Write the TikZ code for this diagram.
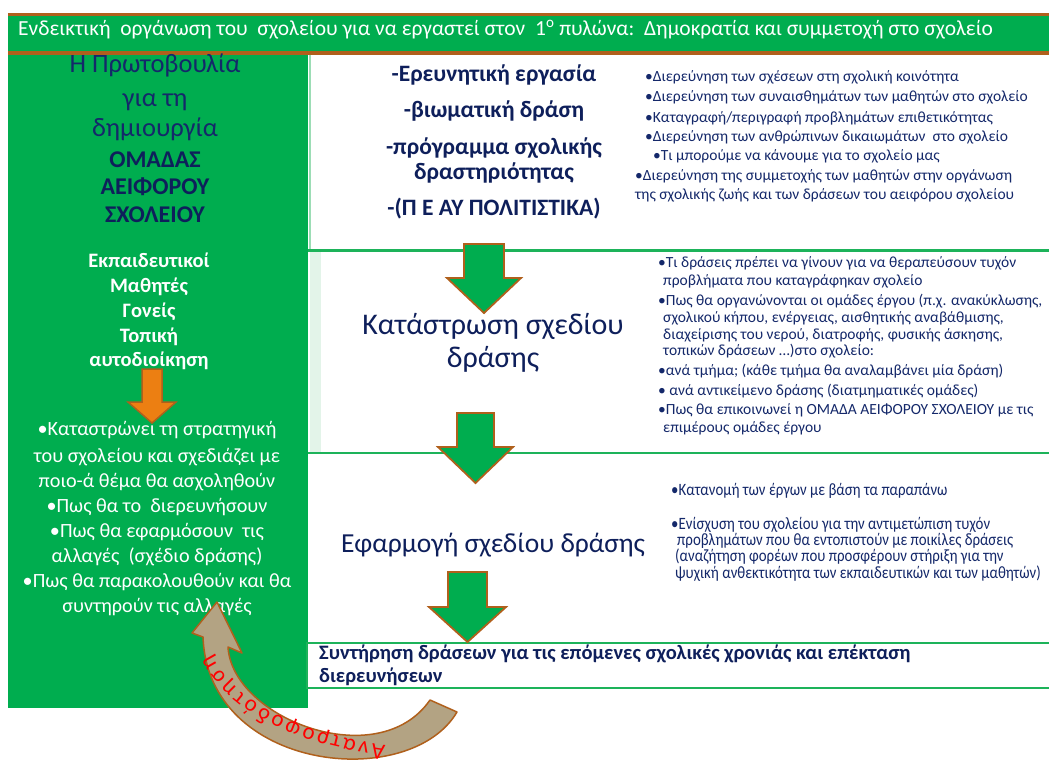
\documentclass[tikz,border=0pt]{standalone}
\usepackage{fontspec}
\setmainfont{Carlito}
\newfontfamily\condfont[FakeStretch=0.86]{Carlito}
\usetikzlibrary{decorations.text}
\definecolor{pgreen}{HTML}{00AD4F}
\definecolor{pbrown}{HTML}{B0601C}
\definecolor{navy}{HTML}{14286A}
\definecolor{dnavy}{HTML}{0E1F5B}
\definecolor{porange}{HTML}{EC7F12}
\definecolor{recyc}{HTML}{B3A383}
\definecolor{lgreen}{HTML}{E3F4E9}
\definecolor{bline}{HTML}{1DB35A}
\definecolor{pline}{HTML}{9CDDB5}
\newcommand\fsz[1]{\fontsize{#1}{#1}\selectfont}
\begin{document}
\begin{tikzpicture}[x=1pt,y=-1pt,
  txt/.style={inner sep=0pt, anchor=mid},
  ltxt/.style={inner sep=0pt, anchor=mid west},
  blockarrow/.style={fill=pgreen, draw=pbrown, line width=1.8pt, line join=miter},
  sepline/.style={draw=bline, line width=2.5pt},
  initxt/.style={txt, text=navy, font=\fsz{26.5}},
  grouptxt/.style={txt, text=dnavy, font=\bfseries\fsz{24}},
  membtxt/.style={txt, text=white, font=\bfseries\fsz{20.5}},
  lbul/.style={txt, text=white, font=\fsz{20.2}},
  headtxt/.style={txt, text=dnavy, font=\bfseries\fsz{23.5}},
  bigtxt/.style={txt, text=dnavy, font=\fsz{30}},
  midtxt/.style={txt, text=dnavy, font=\fsz{27.5}},
  bul1/.style={ltxt, text=navy, font=\fsz{15.5}},
  bul2/.style={ltxt, text=navy, font=\fsz{15.5}},
  bul3/.style={ltxt, text=navy, font=\condfont\fsz{17.3}},
  maint/.style={ltxt, text=dnavy, font=\bfseries\fsz{20.5}}
]
\useasboundingbox (0,0) rectangle (1049,765);
\fill[white] (0,0) rectangle (1049,765);

% title bar
\fill[pbrown] (8,13) rectangle (1049,55);
\fill[pgreen] (8,16.5) rectangle (1049,51.5);
\node[ltxt, text=white, font=\fsz{21.5}] (title) at (18,33)
  {Ενδεικτική\ \ οργάνωση του\ \ σχολείου για να εργαστεί στον\ \ 1\textsuperscript{ο} πυλώνα:\ \ Δημοκρατία και συμμετοχή στο σχολείο};

% left panel
\fill[pgreen] (8,55) rectangle (308,708);

% right boxes
\draw[pline, line width=1.5pt] (310,55) -- (310,250);
\fill[lgreen] (310,252) rectangle (321,452);
\draw[sepline] (308,250.5) -- (1049,250.5);
\draw[sepline, line width=2pt] (308,453) -- (1049,453);
\draw[sepline, line width=2pt] (306,643) -- (1049,643);
\draw[sepline, line width=2pt] (306,688) -- (1049,688);
\draw[bline, line width=1.5pt] (307,643) -- (307,688);
\fill[white] (308,644) rectangle (1049,687);

% orange arrow (left panel)
\draw[fill=porange, draw=pbrown, line width=1.5pt] (142,369) -- (162,369) -- (162,402) -- (176,402) -- (152,423) -- (128,402) -- (142,402) -- cycle;

% left panel text
\node[initxt] (l1) at (155,70) {Η Πρωτοβουλία};
\node[initxt] (l2) at (155,104) {για τη};
\node[initxt] (l3) at (155,134) {δημιουργία};
\node[grouptxt] (l4) at (155,165) {ΟΜΑΔΑΣ};
\node[grouptxt] (l5) at (155,192) {ΑΕΙΦΟΡΟΥ};
\node[grouptxt] (l6) at (155,220) {ΣΧΟΛΕΙΟΥ};

\node[membtxt] (m1) at (149,265) {Εκπαιδευτικοί};
\node[membtxt] (m2) at (149,290) {Μαθητές};
\node[membtxt] (m3) at (149,315) {Γονείς};
\node[membtxt] (m4) at (149,340) {Τοπική};
\node[membtxt] (m5) at (149,364) {αυτοδιοίκηση};

\node[lbul] (s1) at (157,433) {•Καταστρώνει τη στρατηγική};
\node[lbul] (s2) at (157,460) {του σχολείου και σχεδιάζει με};
\node[lbul] (s3) at (157,485) {ποιο-ά θέμα θα ασχοληθούν};
\node[lbul] (s4) at (157,510) {•Πως θα το\ \ διερευνήσουν};
\node[lbul] (s5) at (157,535) {•Πως θα εφαρμόσουν\ \ τις};
\node[lbul] (s6) at (157,560) {αλλαγές\ \ (σχέδιο δράσης)};
\node[lbul] (s7) at (157,585) {•Πως θα παρακολουθούν και θα};
\node[lbul] (s8) at (157,610) {συντηρούν τις αλλαγές};

% box 1
\node[headtxt] (h1) at (494,79) {-Ερευνητική εργασία};
\node[headtxt] (h2) at (494,115) {-βιωματική δράση};
\node[headtxt] (h3) at (494,152) {-πρόγραμμα σχολικής};
\node[headtxt] (h4) at (494,177) {δραστηριότητας};
\node[headtxt] (h5) at (494,213) {-(Π Ε ΑΥ ΠΟΛΙΤΙΣΤΙΚΑ)};

\node[bul1] (a1) at (645,79) {•Διερεύνηση των σχέσεων στη σχολική κοινότητα};
\node[bul1] (a2) at (645,99) {•Διερεύνηση των συναισθημάτων των μαθητών στο σχολείο};
\node[bul1] (a3) at (645,120) {•Καταγραφή/περιγραφή προβλημάτων επιθετικότητας};
\node[bul1] (a4) at (645,139) {•Διερεύνηση των ανθρώπινων δικαιωμάτων\ \ στο σχολείο};
\node[bul1] (a5) at (653,158) {•Τι μπορούμε να κάνουμε για το σχολείο μας};
\node[bul1] (a6) at (635,178) {•Διερεύνηση της συμμετοχής των μαθητών στην οργάνωση};
\node[bul1] (a7) at (635,197) {της σχολικής ζωής και των δράσεων του αειφόρου σχολείου};

% box 2
\node[bigtxt] (k1) at (493,332) {Κατάστρωση σχεδίου};
\node[bigtxt] (k2) at (493,365) {δράσης};

\node[bul2] (c1) at (658,265) {•Τι δράσεις πρέπει να γίνουν για να θεραπεύσουν τυχόν};
\node[bul2] (c2) at (663,283) {προβλήματα που καταγράφηκαν σχολείο};
\node[bul2] (c3) at (658,303) {•Πως θα οργανώνονται οι ομάδες έργου (π.χ. ανακύκλωσης,};
\node[bul2] (c4) at (663,320) {σχολικού κήπου, ενέργειας, αισθητικής αναβάθμισης,};
\node[bul2] (c5) at (663,337) {διαχείρισης του νερού, διατροφής, φυσικής άσκησης,};
\node[bul2] (c6) at (663,353) {τοπικών δράσεων …)στο σχολείο:};
\node[bul2] (c7) at (658,373) {•ανά τμήμα; (κάθε τμήμα θα αναλαμβάνει μία δράση)};
\node[bul2] (c8) at (658,393) {• ανά αντικείμενο δράσης (διατμηματικές ομάδες)};
\node[bul2] (c9) at (658,412) {•Πως θα επικοινωνεί η ΟΜΑΔΑ ΑΕΙΦΟΡΟΥ ΣΧΟΛΕΙΟΥ με τις};
\node[bul2] (c10) at (663,430) {επιμέρους ομάδες έργου};

% box 3
\node[midtxt] (e1) at (493,550) {Εφαρμογή σχεδίου δράσης};
\node[bul3] (d1) at (671,493) {•Κατανομή των έργων με βάση τα παραπάνω};
\node[bul3] (d2) at (671,527) {•Ενίσχυση του σχολείου για την αντιμετώπιση τυχόν};
\node[bul3] (d3) at (677,543) {προβλημάτων που θα εντοπιστούν με ποικίλες δράσεις};
\node[bul3] (d4) at (675,559) {(αναζήτηση φορέων που προσφέρουν στήριξη για την};
\node[bul3] (d5) at (675,576) {ψυχική ανθεκτικότητα των εκπαιδευτικών και των μαθητών)};

% box 4
\node[maint] (f1) at (319,657) {Συντήρηση δράσεων για τις επόμενες σχολικές χρονιάς και επέκταση};
\node[maint] (f2) at (319,680) {διερευνήσεων};

% green block arrows
\draw[blockarrow] (464,244) -- (504,244) -- (504,278) -- (521,278) -- (484,313) -- (447,278) -- (464,278) -- cycle;
\draw[blockarrow] (457,413) -- (494,413) -- (494,447) -- (513,447) -- (475.5,483) -- (438,447) -- (457,447) -- cycle;
\draw[blockarrow] (448,572) -- (487,572) -- (487,607) -- (506,607) -- (467.5,642) -- (429,607) -- (448,607) -- cycle;

% feedback arrow
\draw[fill=recyc, draw=pbrown, line width=1.5pt, line join=round]
  (228,647) .. controls (232,718) and (378,775) .. (430,700) -- (457,712)
  .. controls (410,792) and (208,772) .. (203,637) -- (192,633) -- (217,602) -- (242,653) -- cycle;
\path[decorate, decoration={text along path, text={|\fsz{23}|Ανατροφοδότηση}, text color=red, text align=fit to path, raise=3pt}]
  (386,742) .. controls (320,733) and (242,710) .. (214,653);
\end{tikzpicture}
\end{document}
